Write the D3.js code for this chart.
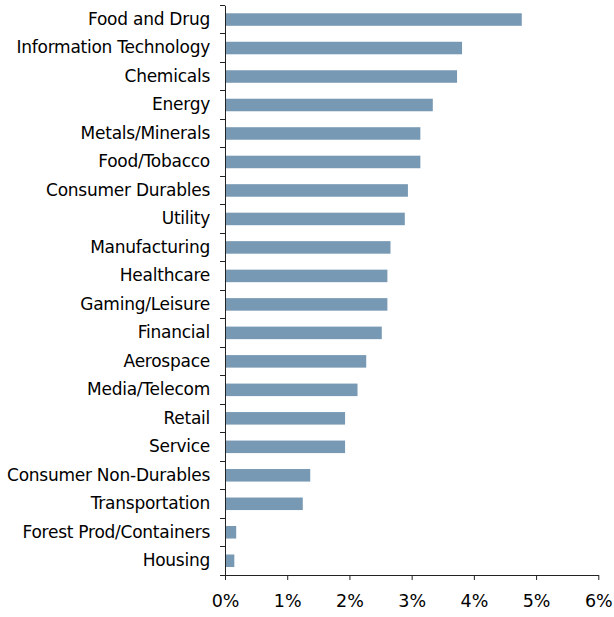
<!DOCTYPE html>
<html>
<head>
<meta charset="utf-8">
<script src="https://cdn.jsdelivr.net/npm/d3@7"></script>
<style>
  html, body { margin: 0; padding: 0; background: #fff; }
  svg { display: block; }
</style>
</head>
<body>
<div id="chart"></div>
<script>
// Sector shares, largest first
const categories = [
  "Food and Drug", "Information Technology", "Chemicals", "Energy",
  "Metals/Minerals", "Food/Tobacco", "Consumer Durables", "Utility",
  "Manufacturing", "Healthcare", "Gaming/Leisure", "Financial",
  "Aerospace", "Media/Telecom", "Retail", "Service",
  "Consumer Non-Durables", "Transportation", "Forest Prod/Containers", "Housing"
];
const values = [
  4.77, 3.81, 3.73, 3.34,
  3.14, 3.14, 2.94, 2.89,
  2.66, 2.61, 2.61, 2.52,
  2.27, 2.13, 1.93, 1.93,
  1.37, 1.25, 0.18, 0.15
];
const xTicks = [0, 1, 2, 3, 4, 5, 6];
const xTickLabels = ["0%", "1%", "2%", "3%", "4%", "5%", "6%"];

const width = 614, height = 617;
const margin = { top: 5.3, right: 16, bottom: 42, left: 225 };
const barColor = "#7899b4";
const axisColor = "#222";
const font = "'DejaVu Sans', Verdana, sans-serif";

const svg = d3.select("#chart").append("svg")
  .attr("width", width).attr("height", height);

const x = d3.scaleLinear()
  .domain([0, 6])
  .range([margin.left, 598.3]);

const inner = 0.56;
const y = d3.scaleBand()
  .domain(categories)
  .range([margin.top, 575])
  .paddingInner(inner)
  .paddingOuter(inner / 2);

// Bars
svg.append("g").selectAll("rect")
  .data(categories)
  .join("rect")
  .attr("x", x(0))
  .attr("y", d => y(d))
  .attr("width", (d, i) => x(values[i]) - x(0))
  .attr("height", y.bandwidth())
  .attr("fill", barColor);

// Category axis: labels at band centres, ticks at band boundaries
const yAxis = svg.append("g")
  .attr("transform", `translate(${x(0)},0)`)
  .call(d3.axisLeft(y).tickSize(0).tickPadding(15));
yAxis.select(".domain").attr("stroke", axisColor);
yAxis.selectAll("text")
  .attr("font-family", font)
  .attr("font-size", "17px")
  .attr("letter-spacing", "-0.25px")
  .attr("fill", "#000");

const gap = (y.step() - y.bandwidth()) / 2;
const boundaries = categories.map(c => y(c) - gap).concat([y(categories[categories.length - 1]) + y.bandwidth() + gap]);
svg.append("g").selectAll("line")
  .data(boundaries)
  .join("line")
  .attr("x1", x(0) - 5).attr("x2", x(0))
  .attr("y1", d => d).attr("y2", d => d)
  .attr("stroke", axisColor)
  .attr("shape-rendering", "crispEdges");

// Value axis
const xAxis = svg.append("g")
  .attr("transform", `translate(0,575)`)
  .call(d3.axisBottom(x)
    .tickValues(xTicks)
    .tickFormat((d, i) => xTickLabels[i])
    .tickSizeInner(5)
    .tickSizeOuter(0)
    .tickPadding(15));
xAxis.select(".domain").attr("stroke", axisColor);
xAxis.selectAll("line").attr("stroke", axisColor);
xAxis.selectAll("text")
  .attr("font-family", font)
  .attr("font-size", "17.5px")
  .attr("fill", "#000");
</script>
</body>
</html>
